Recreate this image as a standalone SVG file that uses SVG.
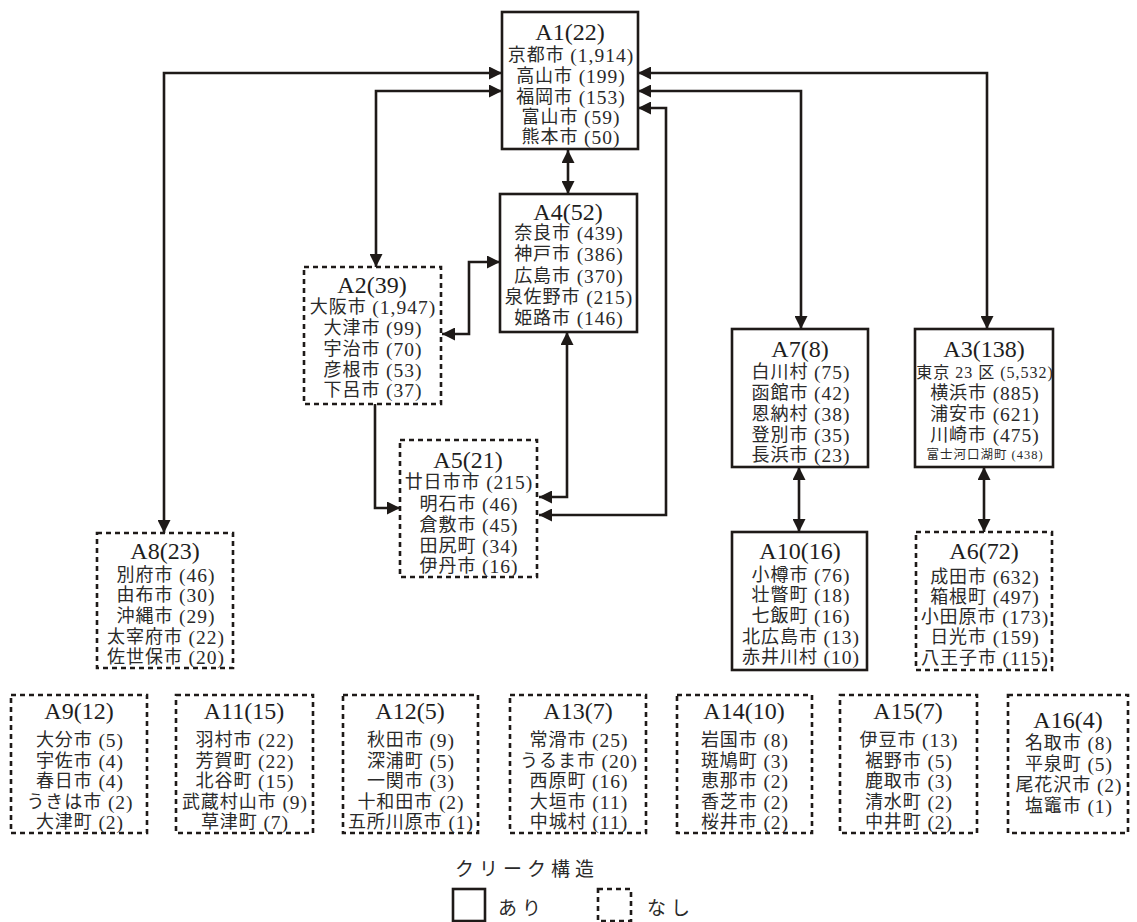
<svg xmlns="http://www.w3.org/2000/svg" width="1137" height="922" viewBox="0 0 1137 922">
<style>
.bg{fill:#ffffff}
.solid{fill:#ffffff;stroke:#1e1a18;stroke-width:2.6}
.dash{fill:#ffffff;stroke:#1e1a18;stroke-width:2.6;stroke-dasharray:5 4}
.t{font-family:"Liberation Serif",serif;font-size:24px;fill:#1e1e1e;text-anchor:middle;dominant-baseline:central}
.l{font-family:"Liberation Serif","Noto Sans CJK JP",serif;font-size:18px;letter-spacing:1px;fill:#2a2a2a;text-anchor:middle;dominant-baseline:central}
.n{font-family:"Liberation Serif",serif;font-size:19.5px}
.s{font-size:16px}
.s .n{font-size:16px}
.xs{font-size:12.5px}
.xs .n{font-size:12.5px}
.conn{fill:none;stroke:#1e1a18;stroke-width:2.6}
.leg{font-family:"Noto Sans CJK JP",sans-serif;font-size:19px;letter-spacing:5px;fill:#2a2a2a;dominant-baseline:central}
</style>
<defs>
<marker id="ah" markerUnits="userSpaceOnUse" markerWidth="13" markerHeight="13" refX="13" refY="6.5" orient="auto-start-reverse" viewBox="0 0 13 13">
<path d="M0,0 L13,6.5 L0,13 z" fill="#1e1a18"/>
</marker>
</defs>
<rect class="bg" x="0" y="0" width="1137" height="922"/>

<g id="connectors">
<path class="conn" d="M164,533 V73 H502" marker-start="url(#ah)" marker-end="url(#ah)"/>
<path class="conn" d="M376,267 V91 H502" marker-start="url(#ah)" marker-end="url(#ah)"/>
<path class="conn" d="M987,329 V73 H638" marker-start="url(#ah)" marker-end="url(#ah)"/>
<path class="conn" d="M801,329 V91 H638" marker-start="url(#ah)" marker-end="url(#ah)"/>
<path class="conn" d="M539,515 H666 V108 H638" marker-start="url(#ah)" marker-end="url(#ah)"/>
<path class="conn" d="M568,150 V194" marker-start="url(#ah)" marker-end="url(#ah)"/>
<path class="conn" d="M442,334 H469 V262 H500" marker-start="url(#ah)" marker-end="url(#ah)"/>
<path class="conn" d="M567,332 V497 H539" marker-start="url(#ah)" marker-end="url(#ah)"/>
<path class="conn" d="M375,404 V508 H400" marker-end="url(#ah)"/>
<path class="conn" d="M799,467 V532" marker-start="url(#ah)" marker-end="url(#ah)"/>
<path class="conn" d="M984,467 V532" marker-start="url(#ah)" marker-end="url(#ah)"/>
</g>

<g id="A1">
<rect class="solid" x="502" y="12" width="136" height="137"/>
<text class="t" x="570" y="32">A1(22)</text>
<text class="l" x="571" y="55">京都市 <tspan class="n">(1,914)</tspan></text>
<text class="l" x="571" y="76">高山市 <tspan class="n">(199)</tspan></text>
<text class="l" x="571" y="97">福岡市 <tspan class="n">(153)</tspan></text>
<text class="l" x="571" y="117">富山市 <tspan class="n">(59)</tspan></text>
<text class="l" x="571" y="137">熊本市 <tspan class="n">(50)</tspan></text>
</g>

<g id="A4">
<rect class="solid" x="500" y="194" width="137" height="138"/>
<text class="t" x="568" y="212">A4(52)</text>
<text class="l" x="569" y="233">奈良市 <tspan class="n">(439)</tspan></text>
<text class="l" x="569" y="254">神戸市 <tspan class="n">(386)</tspan></text>
<text class="l" x="569" y="276">広島市 <tspan class="n">(370)</tspan></text>
<text class="l" x="569" y="297">泉佐野市 <tspan class="n">(215)</tspan></text>
<text class="l" x="569" y="318">姫路市 <tspan class="n">(146)</tspan></text>
</g>

<g id="A2">
<rect class="dash" x="304" y="267" width="137" height="137"/>
<text class="t" x="372" y="285">A2(39)</text>
<text class="l" x="373" y="307">大阪市 <tspan class="n">(1,947)</tspan></text>
<text class="l" x="373" y="328">大津市 <tspan class="n">(99)</tspan></text>
<text class="l" x="373" y="349">宇治市 <tspan class="n">(70)</tspan></text>
<text class="l" x="373" y="370">彦根市 <tspan class="n">(53)</tspan></text>
<text class="l" x="373" y="390">下呂市 <tspan class="n">(37)</tspan></text>
</g>

<g id="A5">
<rect class="dash" x="400" y="440" width="137" height="137"/>
<text class="t" x="468" y="460">A5(21)</text>
<text class="l" x="469" y="482">廿日市市 <tspan class="n">(215)</tspan></text>
<text class="l" x="469" y="504">明石市 <tspan class="n">(46)</tspan></text>
<text class="l" x="469" y="525">倉敷市 <tspan class="n">(45)</tspan></text>
<text class="l" x="469" y="546">田尻町 <tspan class="n">(34)</tspan></text>
<text class="l" x="469" y="566">伊丹市 <tspan class="n">(16)</tspan></text>
</g>

<g id="A7">
<rect class="solid" x="732" y="329" width="136" height="138"/>
<text class="t" x="800" y="349">A7(8)</text>
<text class="l" x="801" y="372">白川村 <tspan class="n">(75)</tspan></text>
<text class="l" x="801" y="393">函館市 <tspan class="n">(42)</tspan></text>
<text class="l" x="801" y="414">恩納村 <tspan class="n">(38)</tspan></text>
<text class="l" x="801" y="435">登別市 <tspan class="n">(35)</tspan></text>
<text class="l" x="801" y="455">長浜市 <tspan class="n">(23)</tspan></text>
</g>

<g id="A3">
<rect class="solid" x="915" y="329" width="138" height="138"/>
<text class="t" x="984" y="349">A3(138)</text>
<text class="l s" x="985" y="372">東京 <tspan class="n">23</tspan> 区 <tspan class="n">(5,532)</tspan></text>
<text class="l" x="985" y="393">横浜市 <tspan class="n">(885)</tspan></text>
<text class="l" x="985" y="414">浦安市 <tspan class="n">(621)</tspan></text>
<text class="l" x="985" y="435">川崎市 <tspan class="n">(475)</tspan></text>
<text class="l xs" x="985" y="455">富士河口湖町 <tspan class="n">(438)</tspan></text>
</g>

<g id="A10">
<rect class="solid" x="732" y="532" width="135" height="138"/>
<text class="t" x="800" y="551">A10(16)</text>
<text class="l" x="801" y="575">小樽市 <tspan class="n">(76)</tspan></text>
<text class="l" x="801" y="595">壮瞥町 <tspan class="n">(18)</tspan></text>
<text class="l" x="801" y="616">七飯町 <tspan class="n">(16)</tspan></text>
<text class="l" x="801" y="637">北広島市 <tspan class="n">(13)</tspan></text>
<text class="l" x="801" y="657">赤井川村 <tspan class="n">(10)</tspan></text>
</g>

<g id="A6">
<rect class="dash" x="916" y="532" width="136" height="138"/>
<text class="t" x="984" y="551">A6(72)</text>
<text class="l" x="985" y="577">成田市 <tspan class="n">(632)</tspan></text>
<text class="l" x="985" y="597">箱根町 <tspan class="n">(497)</tspan></text>
<text class="l" x="985" y="617">小田原市 <tspan class="n">(173)</tspan></text>
<text class="l" x="985" y="637">日光市 <tspan class="n">(159)</tspan></text>
<text class="l" x="985" y="658">八王子市 <tspan class="n">(115)</tspan></text>
</g>

<g id="A8">
<rect class="dash" x="97" y="533" width="136" height="135"/>
<text class="t" x="165" y="551">A8(23)</text>
<text class="l" x="166" y="575">別府市 <tspan class="n">(46)</tspan></text>
<text class="l" x="166" y="595">由布市 <tspan class="n">(30)</tspan></text>
<text class="l" x="166" y="616">沖縄市 <tspan class="n">(29)</tspan></text>
<text class="l" x="166" y="637">太宰府市 <tspan class="n">(22)</tspan></text>
<text class="l" x="166" y="657">佐世保市 <tspan class="n">(20)</tspan></text>
</g>

<g id="A9">
<rect class="dash" x="11" y="695" width="136" height="138"/>
<text class="t" x="79" y="711">A9(12)</text>
<text class="l" x="80" y="740">大分市 <tspan class="n">(5)</tspan></text>
<text class="l" x="80" y="761">宇佐市 <tspan class="n">(4)</tspan></text>
<text class="l" x="80" y="781">春日市 <tspan class="n">(4)</tspan></text>
<text class="l" x="80" y="802">うきは市 <tspan class="n">(2)</tspan></text>
<text class="l" x="80" y="822">大津町 <tspan class="n">(2)</tspan></text>
</g>

<g id="A11">
<rect class="dash" x="176" y="695" width="137" height="138"/>
<text class="t" x="244" y="711">A11(15)</text>
<text class="l" x="245" y="740">羽村市 <tspan class="n">(22)</tspan></text>
<text class="l" x="245" y="761">芳賀町 <tspan class="n">(22)</tspan></text>
<text class="l" x="245" y="781">北谷町 <tspan class="n">(15)</tspan></text>
<text class="l" x="245" y="802">武蔵村山市 <tspan class="n">(9)</tspan></text>
<text class="l" x="245" y="822">草津町 <tspan class="n">(7)</tspan></text>
</g>

<g id="A12">
<rect class="dash" x="343" y="695" width="135" height="138"/>
<text class="t" x="410" y="711">A12(5)</text>
<text class="l" x="411" y="740">秋田市 <tspan class="n">(9)</tspan></text>
<text class="l" x="411" y="761">深浦町 <tspan class="n">(5)</tspan></text>
<text class="l" x="411" y="781">一関市 <tspan class="n">(3)</tspan></text>
<text class="l" x="411" y="802">十和田市 <tspan class="n">(2)</tspan></text>
<text class="l" x="411" y="822">五所川原市 <tspan class="n">(1)</tspan></text>
</g>

<g id="A13">
<rect class="dash" x="510" y="695" width="136" height="138"/>
<text class="t" x="578" y="711">A13(7)</text>
<text class="l" x="579" y="740">常滑市 <tspan class="n">(25)</tspan></text>
<text class="l" x="579" y="761">うるま市 <tspan class="n">(20)</tspan></text>
<text class="l" x="579" y="781">西原町 <tspan class="n">(16)</tspan></text>
<text class="l" x="579" y="802">大垣市 <tspan class="n">(11)</tspan></text>
<text class="l" x="579" y="822">中城村 <tspan class="n">(11)</tspan></text>
</g>

<g id="A14">
<rect class="dash" x="677" y="695" width="135" height="138"/>
<text class="t" x="744" y="711">A14(10)</text>
<text class="l" x="745" y="740">岩国市 <tspan class="n">(8)</tspan></text>
<text class="l" x="745" y="761">斑鳩町 <tspan class="n">(3)</tspan></text>
<text class="l" x="745" y="781">恵那市 <tspan class="n">(2)</tspan></text>
<text class="l" x="745" y="802">香芝市 <tspan class="n">(2)</tspan></text>
<text class="l" x="745" y="822">桜井市 <tspan class="n">(2)</tspan></text>
</g>

<g id="A15">
<rect class="dash" x="840" y="695" width="137" height="138"/>
<text class="t" x="908" y="711">A15(7)</text>
<text class="l" x="909" y="740">伊豆市 <tspan class="n">(13)</tspan></text>
<text class="l" x="909" y="761">裾野市 <tspan class="n">(5)</tspan></text>
<text class="l" x="909" y="781">鹿取市 <tspan class="n">(3)</tspan></text>
<text class="l" x="909" y="802">清水町 <tspan class="n">(2)</tspan></text>
<text class="l" x="909" y="822">中井町 <tspan class="n">(2)</tspan></text>
</g>

<g id="A16">
<rect class="dash" x="1008" y="695" width="120" height="138"/>
<text class="t" x="1068" y="720">A16(4)</text>
<text class="l" x="1069" y="743">名取市 <tspan class="n">(8)</tspan></text>
<text class="l" x="1069" y="764">平泉町 <tspan class="n">(5)</tspan></text>
<text class="l" x="1069" y="785">尾花沢市 <tspan class="n">(2)</tspan></text>
<text class="l" x="1069" y="806">塩竈市 <tspan class="n">(1)</tspan></text>
</g>

<g id="legend">
<text class="leg" x="455" y="867">クリーク構造</text>
<rect class="solid" x="453" y="889" width="32" height="32"/>
<text class="leg" x="498" y="906">あり</text>
<rect class="dash" x="598" y="889" width="33" height="32"/>
<text class="leg" x="647" y="906">なし</text>
</g>
</svg>
